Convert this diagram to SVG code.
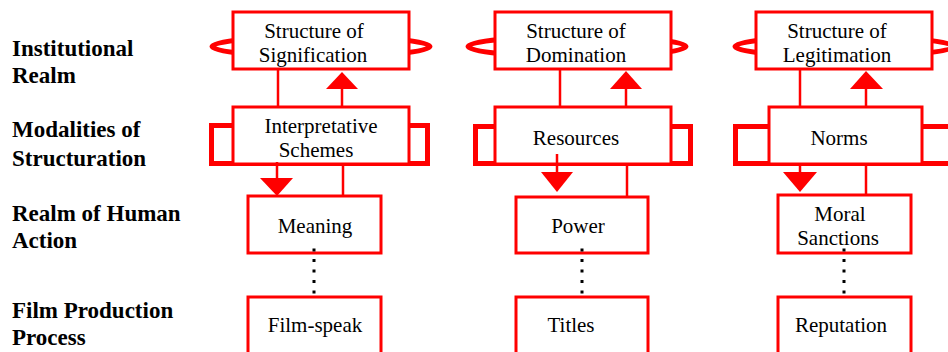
<svg xmlns="http://www.w3.org/2000/svg" width="948" height="352" viewBox="0 0 948 352">
<style>
.box{fill:#fff;stroke:#ff0000;stroke-width:3}
.loop{fill:none;stroke:#ff0000;stroke-width:5}
.brk{fill:none;stroke:#ff0000;stroke-width:5}
.ln{stroke:#ff0000;stroke-width:2.5;fill:none}
.head{fill:#ff0000;stroke:none}
.dot{stroke:#000;stroke-width:3;stroke-dasharray:3 7.5;fill:none}
.t{font-family:'Liberation Serif','DejaVu Serif',serif;font-size:21px;fill:#000;text-anchor:middle}
.lbl{font-family:'Liberation Serif','DejaVu Serif',serif;font-size:23px;font-weight:bold;fill:#000}
</style>
<rect width="948" height="352" fill="#fff"/>

<g id="labels">
<text class="lbl" x="12" y="56">Institutional</text>
<text class="lbl" x="12" y="83">Realm</text>
<text class="lbl" x="12" y="137">Modalities of</text>
<text class="lbl" x="12" y="166">Structuration</text>
<text class="lbl" x="12" y="221">Realm of Human</text>
<text class="lbl" x="12" y="248">Action</text>
<text class="lbl" x="12" y="318">Film Production</text>
<text class="lbl" x="12" y="345">Process</text>
</g>

<g id="loops">
<ellipse class="loop" cx="321" cy="46.5" rx="109" ry="10"/>
<ellipse class="loop" cx="577" cy="46.5" rx="109" ry="10"/>
<ellipse class="loop" cx="844" cy="46.5" rx="109" ry="10"/>
<rect class="brk" x="211.5" y="125.5" width="216" height="38"/>
<rect class="brk" x="475.5" y="126.5" width="215" height="37"/>
<rect class="brk" x="735.5" y="126.5" width="230" height="37"/>
</g>

<g id="connectors">
<line class="ln" x1="278" y1="69" x2="278" y2="107"/>
<line class="ln" x1="342" y1="88" x2="342" y2="107"/>
<polygon class="head" points="342,72 326,89 358,89"/>
<line class="ln" x1="343" y1="164" x2="343" y2="196"/>
<line class="ln" x1="560" y1="69" x2="560" y2="107"/>
<line class="ln" x1="626" y1="88" x2="626" y2="107"/>
<polygon class="head" points="626,71 610,89 642,89"/>
<line class="ln" x1="627" y1="164" x2="627" y2="197"/>
<line class="ln" x1="800" y1="69" x2="800" y2="107"/>
<line class="ln" x1="866" y1="88" x2="866" y2="107"/>
<polygon class="head" points="866,71 850,89 883,89"/>
<line class="ln" x1="866" y1="164" x2="866" y2="195"/>
</g>

<g id="sig">
<rect class="box" x="233" y="12" width="176" height="57"/>
<text class="t" x="314" y="38">Structure of</text>
<text class="t" x="313" y="62">Signification</text>
</g>
<g id="dom">
<rect class="box" x="495" y="12" width="176" height="57"/>
<text class="t" x="576" y="38">Structure of</text>
<text class="t" x="576" y="62">Domination</text>
</g>
<g id="leg">
<rect class="box" x="756" y="12" width="176" height="57"/>
<text class="t" x="837" y="38">Structure of</text>
<text class="t" x="837" y="62">Legitimation</text>
</g>

<g id="interp">
<rect class="box" x="233" y="107" width="176" height="57"/>
<text class="t" x="321" y="133">Interpretative</text>
<text class="t" x="316" y="157">Schemes</text>
</g>
<g id="res">
<rect class="box" x="495" y="107" width="176" height="57"/>
<text class="t" x="576" y="145">Resources</text>
</g>
<g id="norms">
<rect class="box" x="769" y="107" width="153" height="57"/>
<text class="t" x="839" y="145">Norms</text>
</g>

<g id="downarrows">
<line class="ln" x1="277" y1="162" x2="277" y2="180"/>
<polygon class="head" points="260,178 293,178 277,196"/>
<line class="ln" x1="557" y1="154" x2="557" y2="174"/>
<polygon class="head" points="541,172 573,172 557,192"/>
<line class="ln" x1="800" y1="164" x2="800" y2="174"/>
<polygon class="head" points="783,172 817,172 800,192"/>
</g>

<g id="meaning">
<rect class="box" x="248" y="196" width="133" height="57"/>
<text class="t" x="315" y="233">Meaning</text>
</g>
<g id="power">
<rect class="box" x="516" y="197" width="132" height="56"/>
<text class="t" x="578" y="233">Power</text>
</g>
<g id="moral">
<rect class="box" x="778" y="195" width="133" height="58"/>
<text class="t" x="840" y="221">Moral</text>
<text class="t" x="838" y="245">Sanctions</text>
</g>

<g id="dots">
<line class="dot" x1="314" y1="248.5" x2="314" y2="297"/>
<line class="dot" x1="582" y1="248.5" x2="582" y2="297"/>
<line class="dot" x1="844" y1="248.5" x2="844" y2="297"/>
</g>

<g id="filmspeak">
<rect class="box" x="248" y="297" width="133" height="70"/>
<text class="t" x="315" y="332">Film-speak</text>
</g>
<g id="titles">
<rect class="box" x="516" y="297" width="132" height="70"/>
<text class="t" x="571" y="332">Titles</text>
</g>
<g id="reputation">
<rect class="box" x="778" y="297" width="133" height="70"/>
<text class="t" x="841" y="332">Reputation</text>
</g>
</svg>
